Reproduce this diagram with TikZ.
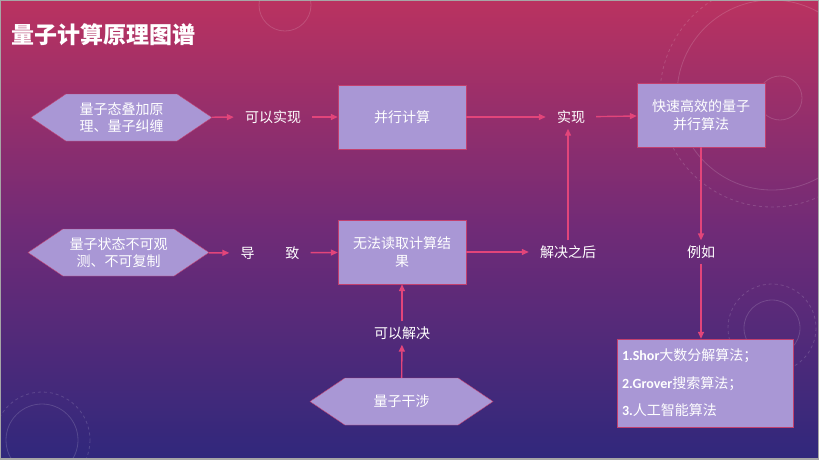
\documentclass[tikz,border=0pt]{standalone}
\usepackage{fontspec}
\setmainfont{Noto Sans CJK SC}
\newfontfamily\latinfont{Carlito}
\usetikzlibrary{arrows.meta,shapes.symbols}

\definecolor{boxfill}{HTML}{A997D5}
\definecolor{boxline}{HTML}{C2406E}
\definecolor{arrowred}{HTML}{E2457A}
\definecolor{bgtop}{HTML}{BA3260}
\definecolor{bgmid}{HTML}{702B77}
\definecolor{bgbot}{HTML}{30287C}

\newcommand{\labelfont}{\fontsize{14}{17.5}\selectfont}

\tikzset{
  hexbox/.style={signal, signal to=west and east, signal pointer angle=68,
    draw=boxline, fill=boxfill, text=white, minimum width=181pt,
    minimum height=47pt, inner sep=0pt, align=center, font=\labelfont},
  rectbox/.style={rectangle, draw=boxline, fill=boxfill, text=white,
    minimum width=128pt, minimum height=64pt, align=center, font=\labelfont},
  tag/.style={text=white, inner xsep=11pt, inner ysep=5pt, font=\labelfont},
  arr/.style={draw=arrowred, line width=1.4pt, -{Triangle[length=7pt,width=6pt]}},
  deco/.style={draw=white, opacity=.15, line width=.8pt},
}

\begin{document}
\begin{tikzpicture}[x=1pt,y=-1pt]

  % background
  \shade[top color=bgtop, bottom color=bgbot, middle color=bgmid] (0,0) rectangle (819,459);
  \useasboundingbox (0,0) rectangle (819,459);
  \draw[deco] (285,5) circle (26);
  \draw[deco] (780,98) circle (22);
  \draw[deco] (772,95) circle (95);
  \draw[deco, dashed] (772,95) circle (112);
  \draw[deco] (42,440) circle (36);
  \draw[deco, dashed] (42,440) circle (48);
  \draw[deco] (772,328) circle (28);
  \draw[deco, dashed] (772,328) circle (44);
  \draw[gray!70, line width=1.5pt] (0,0) rectangle (819,459);

  \node[anchor=west, text=white, font=\fontsize{23}{23}\selectfont\bfseries] (title) at (8,35) {量子计算原理图谱};

  % shapes
  \node[hexbox] (h1) at (121.5,117.5) {量子态叠加原\\理、量子纠缠};
  \node[hexbox] (h2) at (118.5,252.5) {量子状态不可观\\测、不可复制};
  \node[hexbox, minimum width=183pt] (h3) at (401.5,401.5) {量子干涉};
  \node[rectbox] (b1) at (402,117) {并行计算};
  \node[rectbox] (b2) at (402,252) {无法读取计算结\\果};
  \node[rectbox] (b3) at (701,115) {快速高效的量子\\并行算法};
  \node[rectbox, minimum width=176pt, minimum height=88pt, align=left,
    text width=166pt, inner xsep=5pt] (list) at (705,383)
    {{\latinfont\bfseries 1.Shor}大数分解算法；\\[10pt]
     {\latinfont\bfseries 2.Grover}搜索算法；\\[10pt]
     {\latinfont\bfseries 3.}人工智能算法};

  % labels
  \node[tag] (l1) at (273,117) {可以实现};
  \node[tag] (l2) at (270,253) {导\hspace{31pt}致};
  \node[tag] (l3) at (571,117) {实现};
  \node[tag] (l4) at (568,252) {解决之后};
  \node[tag] (l5) at (701,252) {例如};
  \node[tag] (l6) at (402,333) {可以解决};

  % arrows
  \draw[arr] (h1) -- (l1);
  \draw[arr] (l1) -- (b1);
  \draw[arr] (b1) -- (l3);
  \draw[arr] (l3) -- (b3);
  \draw[arr] (h2) -- (l2);
  \draw[arr] (l2) -- (b2);
  \draw[arr] (b2) -- (l4);
  \draw[arr] (l4.north) -- (l4 |- l3.south);
  \draw[arr] (b3) -- (l5);
  \draw[arr] (l5.south) -- (l5 |- list.north);
  \draw[arr] (h3) -- (l6);
  \draw[arr] (l6) -- (b2);

\end{tikzpicture}
\end{document}
